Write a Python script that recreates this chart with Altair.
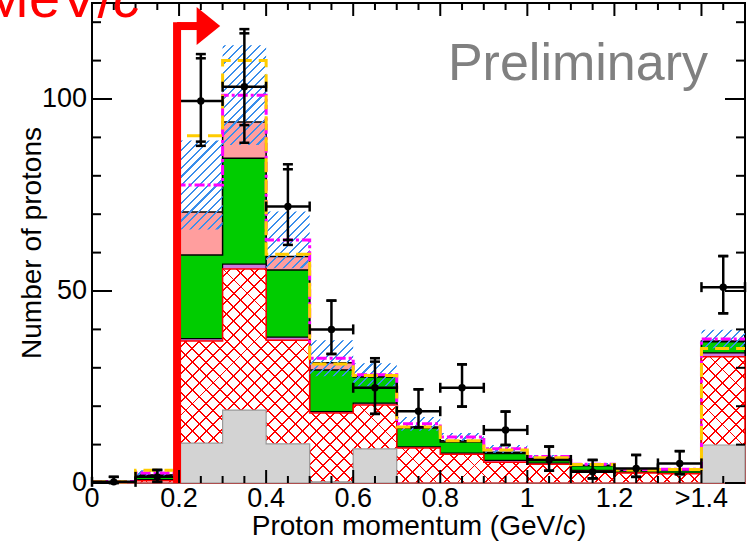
import math
import altair as alt
import pandas as pd

# ---------------- data ----------------
bin_low = [0.0, 0.1, 0.2, 0.3, 0.4, 0.5, 0.6, 0.7, 0.8, 0.9, 1.0, 1.1, 1.2, 1.3, 1.4]
bin_high = [0.1, 0.2, 0.3, 0.4, 0.5, 0.6, 0.7, 0.8, 0.9, 1.0, 1.1, 1.2, 1.3, 1.4, 1.5]
bin_center = [0.05, 0.15, 0.25, 0.35, 0.45, 0.55, 0.65, 0.75, 0.85, 0.95, 1.05, 1.15, 1.25, 1.35, 1.45]

# cumulative stacked MC components (top of each layer)
gray = [0, 0, 10.4, 19.0, 10.2, 0.3, 8.9, 0, 0, 0, 0, 0, 0, 0, 9.9]
red = [0, 0.6, 37.0, 55.7, 37.2, 18.2, 20.3, 9.1, 7.5, 5.4, 4.9, 3.0, 2.6, 2.4, 32.9]
purple = [0, 0.9, 37.6, 57.0, 38.0, 18.6, 20.8, 9.4, 7.8, 5.9, 5.2, 3.3, 2.8, 2.6, 33.9]
green = [0, 2.0, 59.4, 84.6, 55.5, 29.4, 27.6, 14.3, 10.7, 7.7, 6.4, 4.5, 3.2, 3.2, 36.8]
pink = [0, 2.1, 70.6, 94.0, 59.0, 31.3, 27.8, 14.6, 11.0, 8.0, 6.5, 4.6, 3.3, 3.3, 37.0]
# nominal prediction (magenta) with its systematic band, alternative model (yellow)
nominal = [0.4, 2.6, 77.6, 101.0, 63.3, 32.5, 28.2, 15.4, 12.0, 8.9, 6.9, 4.9, 3.5, 3.6, 37.5]
syst = [0.2, 0.7, 11.6, 13.0, 7.4, 4.7, 3.0, 1.8, 1.0, 1.0, 0.4, 0.3, 0.3, 0.3, 2.4]
alt_model = [0.3, 3.3, 90.4, 110.0, 59.6, 31.0, 28.0, 14.6, 11.0, 8.6, 6.6, 4.8, 3.4, 3.5, 35.0]

# data points
data_val = [0.3, 1.6, 99.5, 103.2, 72.0, 40.0, 24.8, 18.7, 24.8, 13.8, 6.0, 2.9, 3.8, 5.1, 51.0]
data_hi = [1.6, 3.4, 111.7, 118.2, 83.0, 47.5, 32.5, 24.4, 30.9, 18.6, 9.5, 6.0, 7.3, 8.3, 59.1]
data_hi_in = [1.6, 3.4, 110.6, 117.1, 81.7, 47.5, 31.6, 24.4, 30.9, 18.6, 9.5, 6.0, 7.3, 8.3, 59.1]
data_lo_in = [0.0, 0.3, 88.9, 93.2, 63.3, 33.6, 18.0, 14.5, 19.9, 9.9, 3.2, 1.2, 1.6, 2.3, 44.2]
data_lo = [0.0, 0.3, 87.8, 88.6, 62.0, 33.6, 18.0, 14.5, 19.9, 9.9, 3.2, 1.2, 1.6, 2.3, 44.2]

x_label_values = [0, 0.2, 0.4, 0.6, 0.8, 1, 1.2, 1.4]
x_label_text = ["0", "0.2", "0.4", "0.6", "0.8", "1", "1.2", ">1.4"]
x_minor_ticks = [0.05, 0.1, 0.15, 0.25, 0.3, 0.35, 0.45, 0.5, 0.55, 0.65, 0.7, 0.75,
                 0.85, 0.9, 0.95, 1.05, 1.1, 1.15, 1.25, 1.3, 1.35, 1.45]
y_label_values = [0, 50, 100]
y_label_text = ["0", "50", "100"]
y_minor_ticks = [10, 20, 30, 40, 60, 70, 80, 90, 110, 120]

cut_value = 0.2
arrow_level = 119.0

# ---------------- layout ----------------
W, H = 653, 480
X_MAX, Y_MAX = 1.5, 125
PX_Y = H / Y_MAX
FONT = "Liberation Sans"


def edge_series(vals):
    return list(vals) + [vals[-1]]


band_lo = [n - s for n, s in zip(nominal, syst)]
band_hi = [n + s for n, s in zip(nominal, syst)]

hist = pd.DataFrame({
    "x": bin_low + [bin_high[-1]],
    "gray": edge_series(gray),
    "red": edge_series(red),
    "purple": edge_series(purple),
    "green": edge_series(green),
    "pink": edge_series(pink),
    "nominal": edge_series(nominal),
    "lo": edge_series(band_lo),
    "hi": edge_series(band_hi),
    "altm": edge_series(alt_model),
})

pts = pd.DataFrame({
    "xc": bin_center, "xlo": bin_low, "xhi": bin_high,
    "val": data_val, "hi": data_hi, "hi_in": data_hi_in,
    "lo_in": data_lo_in, "lo": data_lo,
})

xs = alt.Scale(domain=[0, X_MAX], nice=False, zero=False)
ys = alt.Scale(domain=[0, Y_MAX], nice=False, zero=False)


def X(f="x"):
    return alt.X(f"{f}:Q", scale=xs, axis=None)


def Y(f):
    return alt.Y(f"{f}:Q", scale=ys, axis=None)


def hatch(h_px, spacing, frac, rgb, direction):
    w = W
    r = h_px / w
    a = (1 + r) / (1 + r * r)
    n = max(1, int(round((w + h_px) / (math.sqrt(2) * spacing))))
    col = f"rgb({rgb[0]},{rgb[1]},{rgb[2]})"
    clr = f"rgba({rgb[0]},{rgb[1]},{rgb[2]},0)"
    stops = []
    for k in range(n):
        o0 = k / n
        o1 = (k + frac) / n
        stops += [alt.GradientStop(offset=o0, color=clr),
                  alt.GradientStop(offset=o0, color=col),
                  alt.GradientStop(offset=o1, color=col),
                  alt.GradientStop(offset=o1, color=clr)]
    if direction == "/":
        x1, y1, x2, y2 = 0, 0, a, a * r
    else:
        x1, y1, x2, y2 = 0, 1, a, 1 - a * r
    return alt.LinearGradient(gradient="linear", stops=stops, x1=x1, y1=y1, x2=x2, y2=y2)


base = alt.Chart(hist)
step = "step-after"

pink_layer = base.mark_area(interpolate=step, fill="#ff9e9e", stroke="black", strokeWidth=1.5).encode(
    x=X(), y=Y("pink"))
green_layer = base.mark_area(interpolate=step, fill="#00cc00", stroke="black", strokeWidth=1.5).encode(
    x=X(), y=Y("green"))
purple_layer = base.mark_area(interpolate=step, fill="#cc77dd", stroke="black", strokeWidth=1.2).encode(
    x=X(), y=Y("purple"))
red_white = base.mark_area(interpolate=step, fill="white", stroke="#ff0000", strokeWidth=1.5).encode(
    x=X(), y=Y("red"))
red_h_px = max(red) * PX_Y
red_hatch1 = base.mark_area(interpolate=step, fill=hatch(red_h_px, 9.8, 0.14, (255, 0, 0), "/")).encode(
    x=X(), y=Y("red"))
red_hatch2 = base.mark_area(interpolate=step, fill=hatch(red_h_px, 9.8, 0.14, (255, 0, 0), "\\")).encode(
    x=X(), y=Y("red"))
gray_layer = base.mark_area(interpolate=step, fill="#d3d3d3", stroke="#9a9a9a", strokeWidth=1.2).encode(
    x=X(), y=Y("gray"))
band_h_px = (max(band_hi) - min(band_lo)) * PX_Y
band_layer = base.mark_area(interpolate=step, fill=hatch(band_h_px, 6.2, 0.24, (58, 142, 235), "/")).encode(
    x=X(), y=Y("lo"), y2="hi:Q")
nominal_line = base.mark_line(interpolate=step, color="#ff00ff", strokeWidth=3,
                              strokeDash=[10, 3, 3, 3]).encode(x=X(), y=Y("nominal"))
alt_line = base.mark_line(interpolate=step, color="#ffcc00", strokeWidth=3,
                          strokeDash=[14, 7]).encode(x=X(), y=Y("altm"))

pbase = alt.Chart(pts)
ebar_v = pbase.mark_rule(color="black", strokeWidth=2.5).encode(x=X("xc"), y=Y("lo"), y2="hi:Q")
ebar_h = pbase.mark_rule(color="black", strokeWidth=2.5).encode(x=X("xlo"), x2="xhi:Q", y=Y("val"))
caps = []
for f in ["hi", "hi_in", "lo_in", "lo"]:
    caps.append(pbase.mark_tick(orient="horizontal", size=10, thickness=2.5, color="black", opacity=1).encode(
        x=X("xc"), y=Y(f)))
for f in ["xlo", "xhi"]:
    caps.append(pbase.mark_tick(orient="vertical", size=10, thickness=2.5, color="black", opacity=1).encode(
        x=X(f), y=Y("val")))
dots = pbase.mark_circle(size=55, color="black", opacity=1).encode(x=X("xc"), y=Y("val"))


# ---------------- frame ticks (ROOT style, pointing inward) ----------------
def yticks(vals, length):
    d = alt.Chart(pd.DataFrame({"v": vals}))
    left = d.mark_rule(color="black", strokeWidth=2).encode(y=Y("v"), x=alt.value(0), x2=alt.value(length))
    right = d.mark_rule(color="black", strokeWidth=2).encode(y=Y("v"), x=alt.value(W - length), x2=alt.value(W))
    return [left, right]


def xticks(vals, length):
    d = alt.Chart(pd.DataFrame({"v": vals}))
    bottom = d.mark_rule(color="black", strokeWidth=2).encode(x=X("v"), y=alt.value(H), y2=alt.value(H - length))
    top = d.mark_rule(color="black", strokeWidth=2).encode(x=X("v"), y=alt.value(0), y2=alt.value(length))
    return [bottom, top]


tick_layers = (yticks(y_label_values, 20) + yticks(y_minor_ticks, 9)
               + xticks(x_label_values, 13) + xticks(x_minor_ticks, 7))

# tick labels placed through the scales
x_labels = alt.Chart(pd.DataFrame({"v": x_label_values, "t": x_label_text})).mark_text(
    font=FONT, fontSize=27, color="black", align="center", baseline="alphabetic").encode(
    x=X("v"), y=alt.value(H + 24), text="t:N")
y_labels = alt.Chart(pd.DataFrame({"v": y_label_values, "t": y_label_text})).mark_text(
    font=FONT, fontSize=27, color="black", align="right", baseline="middle").encode(
    y=Y("v"), x=alt.value(-5), text="t:N")

# ---------------- cut arrow ----------------
arrow_df = pd.DataFrame({"x": [cut_value], "x_end": [cut_value + 0.045], "x_head": [cut_value + 0.072],
                         "y0": [0.0], "ytop": [arrow_level + 1.0], "ya": [arrow_level]})
abase = alt.Chart(arrow_df)
arrow_v = abase.mark_rule(color="#ff0000", strokeWidth=8, xOffset=-2).encode(x=X("x"), y=Y("y0"), y2="ytop:Q")
arrow_h = abase.mark_rule(color="#ff0000", strokeWidth=8, xOffset=-2).encode(x=X("x"), x2="x_end:Q", y=Y("ya"))
arrow_head = abase.mark_point(shape="M-0.62,-1L0.62,0L-0.62,1Z", size=1444, filled=True, color="#ff0000",
                              opacity=1, xOffset=-2).encode(x=X("x_head"), y=Y("ya"))

# ---------------- texts ----------------
one = pd.DataFrame({"k": [0]})


def label(text, x, y, size, color="black", align="left", style="normal", angle=0):
    return alt.Chart(one).mark_text(text=text, font=FONT, fontSize=size, color=color, align=align,
                                    baseline="alphabetic", fontStyle=style, angle=angle).encode(
        x=alt.value(x), y=alt.value(y))


texts = [
    label("Preliminary", 616, 77, 52, color="#808080", align="right"),
    label("Proton momentum (GeV/", 471, 532, 28, align="right"),
    label("c", 471, 532, 28, style="italic"),
    label(")", 485, 532, 28),
    label("Number of protons", -51, H / 2, 28, align="center", angle=270),
    label("200 MeV/", 21, 14, 56, color="#ff0000", align="right"),
    label("c", 21, 14, 56, color="#ff0000", style="italic"),
]

chart = alt.layer(
    pink_layer, green_layer, purple_layer, red_white, red_hatch1, red_hatch2, gray_layer,
    band_layer, nominal_line, alt_line,
    ebar_v, ebar_h, *caps, dots,
    arrow_v, arrow_h, arrow_head,
    *tick_layers, x_labels, y_labels, *texts,
).properties(
    width=W, height=H,
    autosize=alt.AutoSizeParams(type="none"),
    padding={"left": 92, "top": 3, "right": 5, "bottom": 59},
    background="white",
).configure_view(stroke="black", strokeWidth=2)

chart.save("out.html", embed_options={"renderer": "svg", "actions": False})
